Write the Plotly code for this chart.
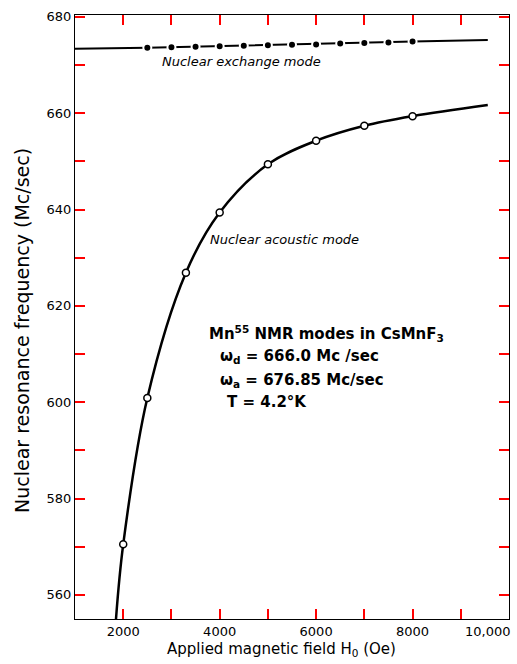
import plotly.graph_objects as go

# Nuclear exchange mode (filled dots) and its fitted line
exch_field = [2500, 3000, 3500, 4000, 4500, 5000, 5500, 6000, 6500, 7000, 7500, 8000]
exch_freq = [673.6, 673.7, 673.8, 673.9, 674.0, 674.1, 674.2, 674.3, 674.5, 674.6, 674.7, 674.9]
exch_line_field = [1000, 2500, 8000, 9560]
exch_line_freq = [673.4, 673.6, 674.9, 675.2]

# Nuclear acoustic mode (open circles) and the smooth curve through them
acou_field = [2000, 2500, 3300, 4000, 5000, 6000, 7000, 8000]
acou_freq = [570.5, 600.9, 626.9, 639.4, 649.4, 654.3, 657.4, 659.4]
curve_field = [1850, 2000, 2500, 3300, 4000, 5000, 6000, 7000, 8000, 9560]
curve_freq = [555.0, 570.5, 600.9, 626.9, 639.4, 649.4, 654.3, 657.4, 659.4, 661.7]

x_tickvals = [2000, 3000, 4000, 5000, 6000, 7000, 8000, 9000]
x_ticktext = ["2000", "", "4000", "", "6000", "", "8000", ""]
y_tickvals = [560, 570, 580, 590, 600, 610, 620, 630, 640, 650, 660, 670, 680]
y_ticktext = ["560", "", "580", "", "600", "", "620", "", "640", "", "660", "", "680"]

FONT = "DejaVu Sans"

fig = go.Figure()

fig.add_trace(go.Scatter(
    x=exch_line_field, y=exch_line_freq, mode="lines",
    line=dict(color="black", width=2), hoverinfo="skip", showlegend=False))
fig.add_trace(go.Scatter(
    x=exch_field, y=exch_freq, mode="markers",
    marker=dict(color="black", size=8, line=dict(color="white", width=2)),
    showlegend=False))

fig.add_trace(go.Scatter(
    x=curve_field, y=curve_freq, mode="lines",
    line=dict(color="black", width=2.5, shape="spline", smoothing=1.0),
    hoverinfo="skip", showlegend=False))
fig.add_trace(go.Scatter(
    x=acou_field, y=acou_freq, mode="markers",
    marker=dict(color="white", size=7, line=dict(color="black", width=1.5)),
    showlegend=False))

# Frame with inward ticks on all four sides
fig.update_xaxes(
    range=[1000, 10000], tickmode="array", tickvals=x_tickvals, ticktext=x_ticktext,
    showline=True, linecolor="black", mirror="allticks",
    ticks="inside", tickcolor="red", tickwidth=2, ticklen=10, showgrid=False)
fig.update_yaxes(
    range=[555, 680.4], tickmode="array", tickvals=y_tickvals, ticktext=y_ticktext,
    showline=True, linecolor="black", mirror="allticks",
    ticks="inside", tickcolor="red", tickwidth=2, ticklen=10, showgrid=False)

annotations = [
    dict(x=0.5, y=0, xref="paper", yref="paper",
         text="Applied magnetic field H<sub>0</sub> (Oe)", showarrow=False,
         xanchor="center", yanchor="top", xshift=-11, yshift=-19,
         font=dict(family=FONT, size=15, color="black")),
    dict(x=0, y=0.5, xref="paper", yref="paper",
         text="Nuclear resonance frequency (Mc/sec)", showarrow=False,
         textangle=-90, xanchor="center", yanchor="middle", xshift=-53, yshift=-14,
         font=dict(family=FONT, size=19, color="black")),
    dict(x=1, y=0, xref="paper", yref="paper", text="10,000", showarrow=False,
         xanchor="right", yanchor="top", xshift=4, yshift=-3,
         font=dict(family=FONT, size=13, color="black")),
    dict(x=2760, y=670.7, text="<i>Nuclear exchange mode</i>", showarrow=False,
         xanchor="left", yanchor="middle", font=dict(family=FONT, size=13, color="black")),
    dict(x=3760, y=633.8, text="<i>Nuclear acoustic mode</i>", showarrow=False,
         xanchor="left", yanchor="middle", font=dict(family=FONT, size=13, color="black")),
    dict(x=3740, y=614.2, text="<b>Mn<sup>55</sup> NMR modes in CsMnF<sub>3</sub></b>",
         showarrow=False, xanchor="left", yanchor="middle",
         font=dict(family=FONT, size=15, color="black")),
    dict(x=3960, y=609.5, text="<b>ω<sub>d</sub> = 666.0 Mc /sec</b>",
         showarrow=False, xanchor="left", yanchor="middle",
         font=dict(family=FONT, size=15, color="black")),
    dict(x=3960, y=604.6, text="<b>ω<sub>a</sub> = 676.85 Mc/sec</b>",
         showarrow=False, xanchor="left", yanchor="middle",
         font=dict(family=FONT, size=15, color="black")),
    dict(x=4120, y=600.0, text="<b>T = 4.2°K</b>",
         showarrow=False, xanchor="left", yanchor="middle",
         font=dict(family=FONT, size=15, color="black")),
]

fig.update_layout(
    width=517, height=664,
    margin=dict(l=75, r=8, t=15, b=45),
    paper_bgcolor="white", plot_bgcolor="white",
    font=dict(family=FONT, size=13, color="black"),
    annotations=annotations,
    showlegend=False,
)

fig.write_html("out.html")
